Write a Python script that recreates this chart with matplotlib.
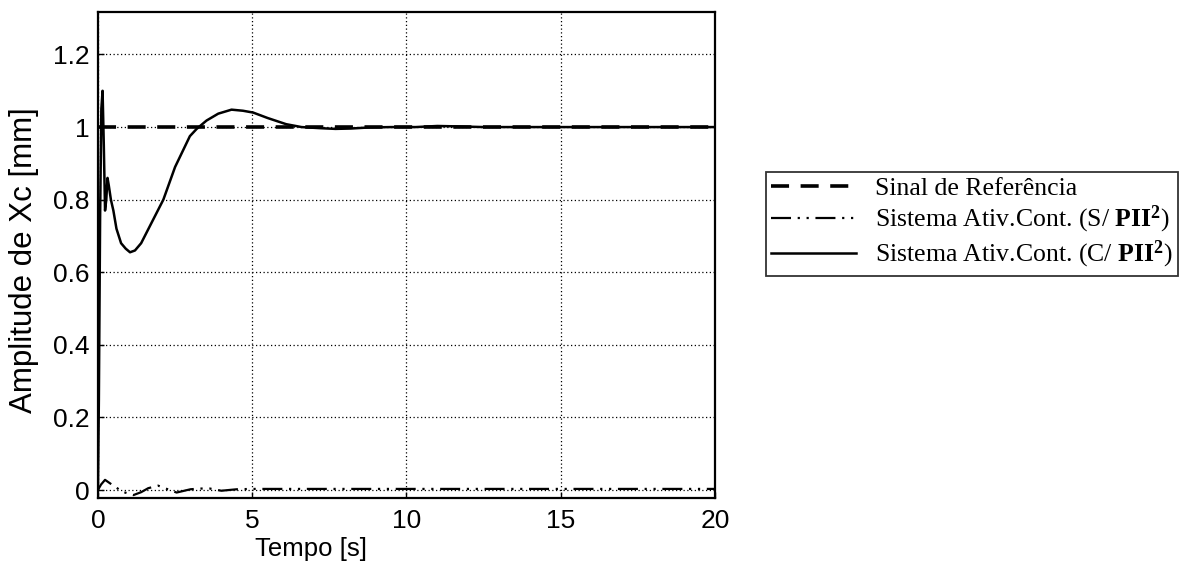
import matplotlib
matplotlib.use("Agg")
import matplotlib.pyplot as plt
import numpy as np

plt.rcParams['mathtext.fontset'] = 'custom'
plt.rcParams['mathtext.rm'] = 'Liberation Serif'
plt.rcParams['mathtext.bf'] = 'Liberation Serif:bold'

# Reference signal
t_ref = [0, 20]
y_ref = [1.0, 1.0]

# Without PII^2
t_s = [0, 0.1, 0.23, 0.5, 0.8, 1.15, 1.4, 1.63, 1.95, 2.2, 2.55, 3.0, 3.3, 3.63, 4.0, 4.5, 5.0, 6.0, 8.0, 12.0, 20.0]
y_s = [0, 0.015, 0.028, 0.012, -0.005, -0.014, -0.006, 0.005, 0.012, 0.004, -0.007, 0.002, 0.004, 0.004, -0.002, 0.002, 0.003, 0.003, 0.003, 0.003, 0.003]

# With PII^2
t_c = [0, 0.03, 0.07, 0.11, 0.15, 0.19, 0.23, 0.27, 0.31, 0.35, 0.42, 0.5, 0.6, 0.75, 0.9, 1.04, 1.2, 1.4, 1.7, 2.12, 2.5, 2.98, 3.2, 3.52, 3.9, 4.33, 4.7, 5.03, 5.5, 6.1, 6.6, 7.2, 7.7, 8.2, 8.8, 9.5, 10.3, 11.0, 11.6, 12.5, 14.0, 20.0]
y_c = [0, 0.25, 0.75, 1.05, 1.10, 0.95, 0.77, 0.80, 0.86, 0.84, 0.80, 0.77, 0.72, 0.68, 0.665, 0.655, 0.66, 0.68, 0.73, 0.80, 0.89, 0.975, 0.995, 1.018, 1.037, 1.048, 1.045, 1.04, 1.025, 1.008, 1.0, 0.997, 0.995, 0.996, 0.999, 1.0, 1.0, 1.003, 1.002, 1.0, 1.0, 1.0]

fig = plt.figure(figsize=(11.93, 5.62), dpi=100)
ax = fig.add_axes([0.0821, 0.1139, 0.5172, 0.8647])

l1, = ax.plot(t_ref, y_ref, color='black', lw=2.6, dashes=(5, 3.2), label='Sinal de Referência')
l2, = ax.plot(t_s, y_s, color='black', lw=1.6, dashes=(9, 3, 1, 3, 1, 3), label=r'Sistema Ativ.Cont. (S/ $\mathbf{PII^2}$)')
l3, = ax.plot(t_c, y_c, color='black', lw=1.8, label=r'Sistema Ativ.Cont. (C/ $\mathbf{PII^2}$)')

ax.set_xlim(0, 20)
ax.set_ylim(-0.022, 1.317)
ax.set_xticks([0, 5, 10, 15, 20])
ax.set_yticks([0, 0.2, 0.4, 0.6, 0.8, 1.0, 1.2])
ax.set_yticklabels(['0', '0.2', '0.4', '0.6', '0.8', '1', '1.2'])
ax.grid(True, color='black', linestyle=(0, (1, 2)), lw=0.9)
ax.tick_params(direction='in', labelsize=19, length=4, width=1, colors='black')
ax.tick_params(axis='x', pad=8)
ax.tick_params(axis='y', pad=6)
for lab in ax.get_xticklabels() + ax.get_yticklabels():
    lab.set_family('Liberation Sans')
for s in ax.spines.values():
    s.set_linewidth(1.6)
    s.set_color('black')

ax.set_xlabel('Tempo [s]', fontsize=18.5, family='Liberation Sans', va='baseline')
ax.xaxis.set_label_coords(0.345, -0.119)
ax.set_ylabel('Amplitude de Xc [mm]', fontsize=22.5, family='Liberation Sans', va='center')
ax.yaxis.set_label_coords(-0.12, 0.49)

leg = fig.legend(handles=[l1, l2, l3], loc='upper left', bbox_to_anchor=(0.642, 0.694),
                 prop={'family': 'Liberation Serif', 'size': 18.5}, frameon=True, fancybox=False,
                 edgecolor='black', borderaxespad=0, handlelength=3.3, borderpad=0.2,
                 labelspacing=0.15, handletextpad=0.75)
leg.get_frame().set_linewidth(1.3)

fig.savefig('out.png', dpi=100)
